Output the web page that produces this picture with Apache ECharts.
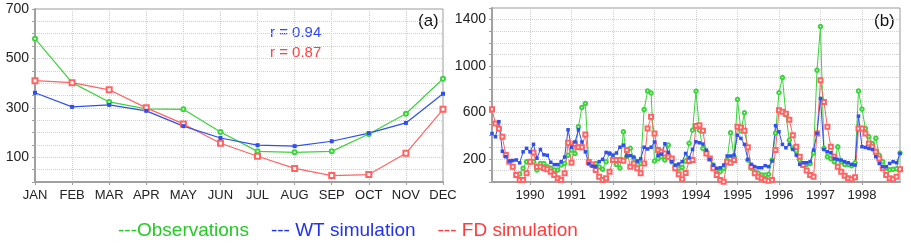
<!DOCTYPE html>
<html>
<head>
<meta charset="utf-8">
<script src="https://cdn.jsdelivr.net/npm/echarts@6/dist/echarts.min.js"></script>
<style>html,body{margin:0;padding:0;background:#fff}#c{width:911px;height:244px}</style>
</head>
<body>
<div id="c"></div>
<script>
// ---- Panel (a): monthly means ----
const months = ['JAN','FEB','MAR','APR','MAY','JUN','JUL','AUG','SEP','OCT','NOV','DEC'];
const obsMonthly = [580, 402, 324, 296, 294, 202, 124, 120, 124, 194, 276, 418];
const wtMonthly  = [361, 304, 312, 288, 226, 178, 149, 145, 165, 198, 239, 357];
const fdMonthly  = [410, 402, 373, 300, 235, 157, 104, 55, 26, 30, 116, 294];

// ---- Panel (b): monthly series, Feb 1989 .. Dec 1998 ----
const startYear = 1989, startMonth = 2, nMonths = 119;
const obsSeries = [
  null,null,null,null,null,null,null,null,69,118,175,
  175,175,103,160,160,132,118,103,103,146,160,230,
  275,246,476,642,677,160,146,160,130,110,175,246,
  200,150,120,433,220,290,205,175,160,625,785,768,
  180,200,218,190,318,175,132,118,125,181,333,447,
  783,447,289,261,203,146,103,89,118,189,424,218,
  711,440,596,190,118,89,75,60,60,66,189,420,
  770,900,580,361,292,270,189,146,150,160,250,963,
  1340,290,218,200,175,304,175,150,150,140,165,785,
  628,462,390,330,378,230,175,120,105,110,115,249
];
const wtSeries = [
  418,390,520,265,218,180,185,190,165,260,290,
  260,325,205,280,235,230,170,150,150,175,215,450,
  300,345,450,345,260,160,138,132,175,195,255,245,
  232,250,300,318,225,228,215,180,200,300,285,300,
  345,230,240,330,255,175,146,155,175,246,210,281,
  347,338,327,275,195,146,118,123,146,224,224,232,
  404,376,324,195,152,132,123,123,141,132,181,486,
  433,324,295,324,281,232,152,166,166,175,275,419,
  720,280,261,252,203,195,189,175,166,152,146,568,
  304,298,289,281,218,160,132,132,160,175,166,246
];
const fdSeries = [
  628,505,460,390,232,175,132,60,17,17,75,
  175,255,130,132,118,110,89,60,32,17,75,338,
  165,330,300,300,410,172,150,103,46,17,32,89,
  189,189,189,183,275,132,160,118,75,160,461,562,
  418,275,260,245,218,203,118,66,23,78,181,189,
  482,490,441,246,203,118,60,17,3,175,165,190,
  476,470,441,300,132,75,46,32,17,11,17,275,
  619,605,588,536,404,304,218,146,100,60,46,419,
  877,690,476,304,218,132,89,54,32,23,40,462,
  462,418,332,304,261,203,118,60,32,23,46,109
];
const leftYLabels = [100, 300, 500, 700];
const rightYLabels = [200, 600, 1000, 1400];

const dates = [];
for (let k = 0; k < nMonths; k++) {
  const m0 = startMonth - 1 + k;
  const y = startYear + Math.floor(m0 / 12);
  const m = (m0 % 12) + 1;
  dates.push(y + '-' + (m < 10 ? '0' + m : m));
}
const isJan = (idx) => dates[idx].endsWith('-01');

const FONT = 'Liberation Sans, Arial, sans-serif';
const GREEN = '#3bd43b', BLUE = '#2f4ff0', RED = '#ff6464';
const axisGray = '#a0a0a0';
const dotted = { show: true, lineStyle: { type: 'dotted', color: '#cfcfcf', width: 1 } };

const chart = echarts.init(document.getElementById('c'));
chart.setOption({
  animation: false,
  backgroundColor: '#fff',
  textStyle: { fontFamily: FONT },
  grid: [
    { left: 35, right: 468, top: 9, bottom: 62, show: true, borderColor: '#9a9a9a', borderWidth: 1 },
    { left: 492, right: 11, top: 8, bottom: 62, show: true, borderColor: '#9a9a9a', borderWidth: 1 }
  ],
  xAxis: [
    {
      gridIndex: 0, type: 'category', data: months, boundaryGap: false,
      axisLine: { lineStyle: { color: axisGray, width: 2 } },
      axisTick: { show: true, length: 3, interval: 0, lineStyle: { color: axisGray } },
      axisLabel: { color: '#222', fontSize: 13, margin: 7, fontFamily: FONT, interval: 0 },
      splitLine: { show: true, interval: 0, lineStyle: { type: 'dotted', color: '#cfcfcf' } }
    },
    {
      gridIndex: 1, type: 'category', data: dates, boundaryGap: false,
      axisLine: { lineStyle: { color: axisGray, width: 2 } },
      axisTick: { show: true, length: 3, interval: (i) => isJan(i), lineStyle: { color: axisGray } },
      axisLabel: { color: '#222', fontSize: 13, margin: 7, fontFamily: FONT,
        interval: (i) => isJan(i), formatter: (v) => v.slice(0, 4) },
      splitLine: { show: true, interval: (i) => isJan(i), lineStyle: { type: 'dotted', color: '#cfcfcf' } }
    }
  ],
  yAxis: [
    {
      gridIndex: 0, type: 'value', min: 0, max: 700, interval: 50,
      axisLine: { show: true, lineStyle: { color: axisGray, width: 2 } },
      axisTick: { show: true, length: 3, lineStyle: { color: axisGray } },
      axisLabel: { color: '#222', fontSize: 14, margin: 6, fontFamily: FONT,
        formatter: (v) => leftYLabels.includes(v) ? String(v) : '' },
      splitLine: dotted
    },
    {
      gridIndex: 1, type: 'value', min: 0, max: 1500, interval: 100,
      axisLine: { show: true, lineStyle: { color: axisGray, width: 2 } },
      axisTick: { show: true, length: 3, lineStyle: { color: axisGray } },
      axisLabel: { color: '#222', fontSize: 14, margin: 6, fontFamily: FONT,
        formatter: (v) => rightYLabels.includes(v) ? String(v) : '' },
      splitLine: dotted
    }
  ],
  legend: {
    left: 108, top: 216, icon: 'none', itemWidth: 0, itemGap: 17, selectedMode: false,
    textStyle: { fontSize: 19, fontFamily: FONT },
    formatter: (n) => n === 'Observations' ? '---' + n : '--- ' + n,
    data: [
      { name: 'Observations', textStyle: { color: '#22cc22' } },
      { name: 'WT simulation', textStyle: { color: '#2233ee' } },
      { name: 'FD simulation', textStyle: { color: '#ff3b3b' } }
    ]
  },
  graphic: [
    { type: 'text', left: 270, top: 25, style: { text: 'r = 0.94', fill: '#2f45ff', font: '15px ' + FONT } },
    { type: 'text', left: 270, top: 45, style: { text: 'r = 0.87', fill: '#ff4040', font: '15px ' + FONT } },
    { type: 'text', left: 418, top: 13, style: { text: '(a)', fill: '#111', font: '17px ' + FONT } },
    { type: 'text', left: 874, top: 13, style: { text: '(b)', fill: '#111', font: '17px ' + FONT } }
  ],
  series: [
    { name: 'Observations', type: 'line', xAxisIndex: 0, yAxisIndex: 0, data: obsMonthly,
      symbol: 'emptyCircle', symbolSize: 4, lineStyle: { color: GREEN, width: 1.2 }, itemStyle: { color: GREEN } },
    { name: 'FD simulation', type: 'line', xAxisIndex: 0, yAxisIndex: 0, data: fdMonthly,
      symbol: 'emptyRect', symbolSize: 5, lineStyle: { color: RED, width: 1.2 }, itemStyle: { color: RED } },
    { name: 'WT simulation', type: 'line', xAxisIndex: 0, yAxisIndex: 0, data: wtMonthly,
      symbol: 'rect', symbolSize: 4, lineStyle: { color: BLUE, width: 1.2 }, itemStyle: { color: BLUE } },

    { name: 'Observations', type: 'line', xAxisIndex: 1, yAxisIndex: 1, data: obsSeries,
      symbol: 'emptyCircle', symbolSize: 3.5, connectNulls: false, showAllSymbol: true,
      lineStyle: { color: GREEN, width: 1 }, itemStyle: { color: GREEN, borderWidth: 1 } },
    { name: 'FD simulation', type: 'line', xAxisIndex: 1, yAxisIndex: 1, data: fdSeries,
      symbol: 'emptyRect', symbolSize: 4, showAllSymbol: true,
      lineStyle: { color: RED, width: 1 }, itemStyle: { color: RED, borderWidth: 1 } },
    { name: 'WT simulation', type: 'line', xAxisIndex: 1, yAxisIndex: 1, data: wtSeries,
      symbol: 'rect', symbolSize: 3.5, showAllSymbol: true,
      lineStyle: { color: BLUE, width: 1 }, itemStyle: { color: BLUE } }
  ]
});
</script>
</body>
</html>
